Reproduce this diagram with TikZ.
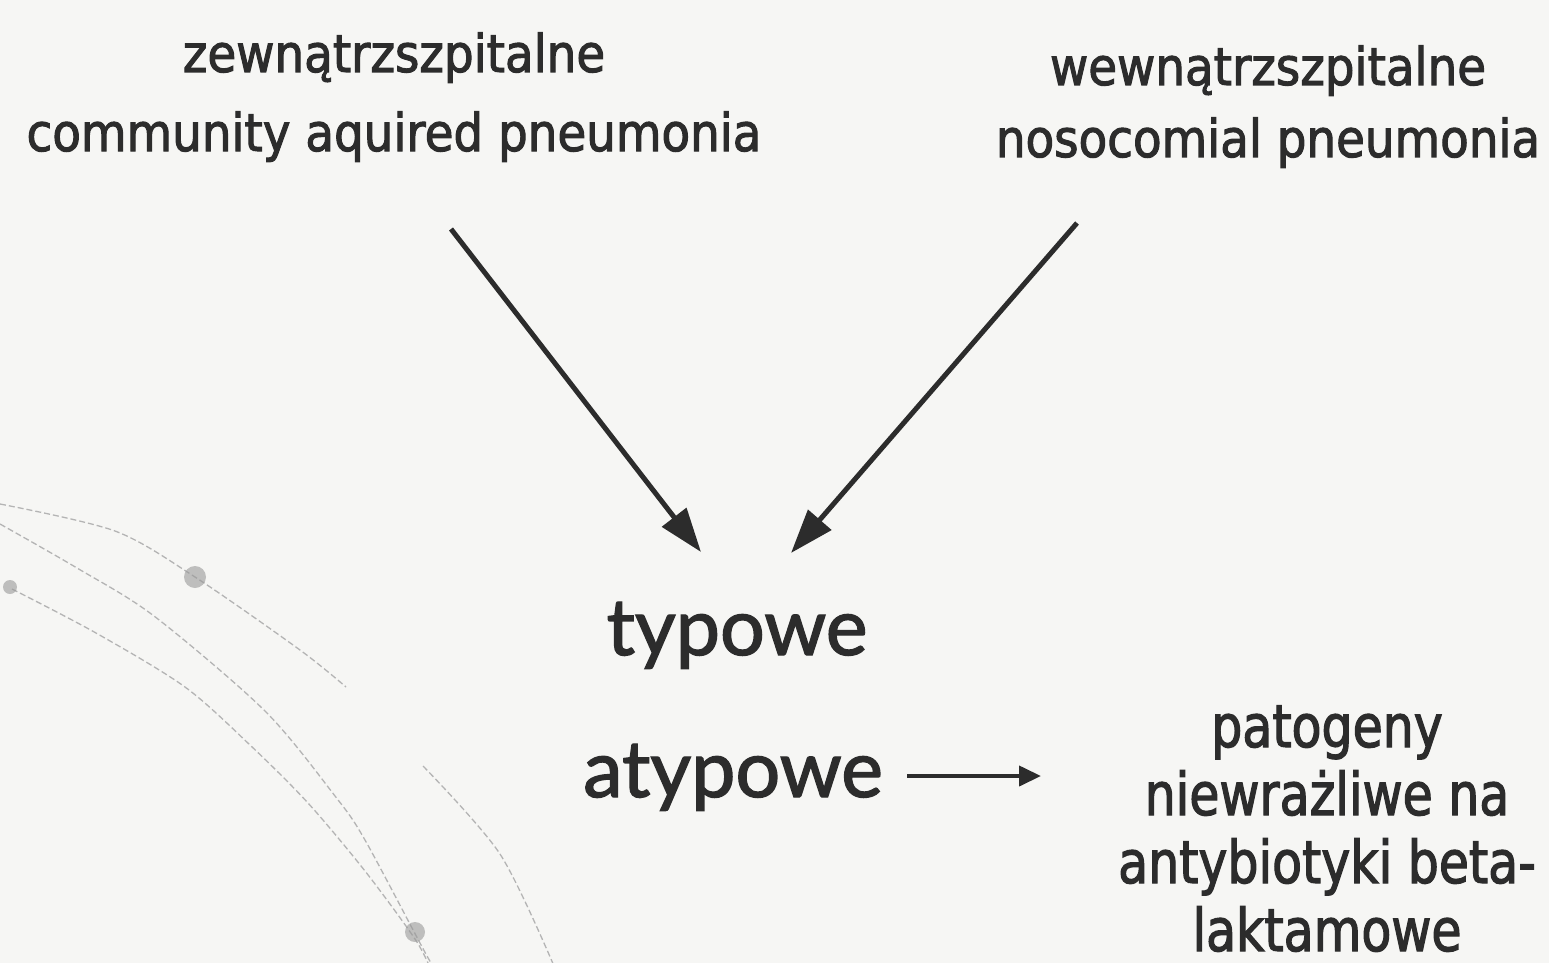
\documentclass[tikz,border=0pt]{standalone}
\usepackage{fontspec}
\setmainfont{DejaVu Sans}
\newfontfamily\topfont[FakeStretch=0.9, FakeBold=2]{DejaVu Sans}
\newfontfamily\sidefont[FakeStretch=0.83, FakeBold=2]{DejaVu Sans}
\newfontfamily\bigfont[FakeBold=1.8]{Lato}
\usetikzlibrary{arrows.meta}
\definecolor{ink}{HTML}{2C2C2C}
\definecolor{paper}{HTML}{F6F6F4}
\definecolor{bleed}{HTML}{B4B4B4}
\tikzset{
  toptext/.style={anchor=base, inner sep=0pt, text=ink, font=\topfont\fontsize{52}{60}\selectfont},
  bigtext/.style={anchor=base, inner sep=0pt, text=ink, font=\bigfont\fontsize{79}{90}\selectfont},
  sidetext/.style={anchor=base, inner sep=0pt, text=ink, align=center, font=\sidefont\fontsize{59}{68}\selectfont},
  bigarrow/.style={draw=ink, line width=5pt, -{Triangle[length=44pt, width=30pt]}},
  smallarrow/.style={draw=ink, line width=4pt, -{Triangle[length=22pt, width=20pt]}},
  bleedline/.style={draw=bleed, line width=1.3pt, dash pattern=on 6pt off 3pt},
  bleeddot/.style={fill=bleed!85!black, opacity=0.6}
}
\begin{document}
\begin{tikzpicture}[x=1pt, y=-1pt]
\fill[paper] (0,0) rectangle (1549,963);
\useasboundingbox (0,0) rectangle (1549,963);
% faint show-through arcs
\begin{scope}
\clip (0,0) rectangle (1549,963);
\draw[bleedline] plot[smooth] coordinates {(0,504) (115,531) (195,577) (300,650) (346,687)};
\draw[bleedline] plot[smooth] coordinates {(423,766) (500,854) (554,966)};
\draw[bleedline] plot[smooth] coordinates {(0,524) (77,568) (154,616) (265,711) (335,796) (365,840) (427,956) (440,975)};
\draw[bleedline] plot[smooth] coordinates {(12,589) (96,633) (185,687) (250,745) (308,803) (365,871) (415,939) (431,970)};
\fill[bleeddot] (195,577) circle (11pt);
\fill[bleeddot] (415,932) circle (10pt);
\fill[bleeddot] (10,587) circle (7pt);
\end{scope}
% texts
\node[toptext] (zew) at (394,72) {zewnątrzszpitalne};
\node[toptext] (cap) at (394,151) {community aquired pneumonia};
\node[toptext] (wew) at (1268,85) {wewnątrzszpitalne};
\node[toptext] (hap) at (1268,157) {nosocomial pneumonia};
\node[bigtext] (typ) at (737,655) {typowe};
\node[bigtext] (atyp) at (733,797) {atypowe};
\node[sidetext] (pat) at (1327,951) {patogeny\\niewrażliwe na\\antybiotyki beta-\\laktamowe};
% connectors
\coordinate (capend) at (451,229);
\coordinate (hapend) at (1077,223);
\coordinate (typleft) at (701,552);
\coordinate (typright) at (791,553);
\coordinate (atypend) at (907,776);
\coordinate (patend) at (1041,776);
\draw[bigarrow] (capend) -- (typleft);
\draw[bigarrow] (hapend) -- (typright);
\draw[smallarrow] (atypend) -- (patend);
\end{tikzpicture}
\end{document}
